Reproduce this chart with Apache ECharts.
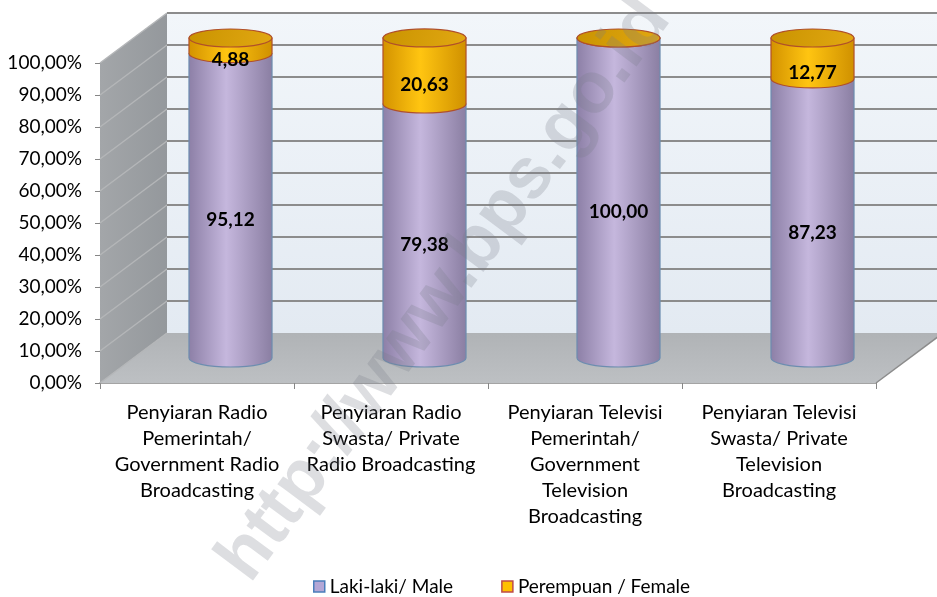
<!DOCTYPE html>
<html>
<head>
<meta charset="utf-8">
<script src="https://cdn.jsdelivr.net/npm/echarts@6/dist/echarts.min.js"></script>
<style>
  html, body { margin: 0; padding: 0; background: #fff; }
  #main { width: 937px; height: 597px; }
</style>
</head>
<body>
<div id="main"></div>
<script>
var categories = [
  'Penyiaran Radio\nPemerintah/\nGovernment Radio\nBroadcasting',
  'Penyiaran Radio\nSwasta/ Private\nRadio Broadcasting',
  'Penyiaran Televisi\nPemerintah/\nGovernment\nTelevision\nBroadcasting',
  'Penyiaran Televisi\nSwasta/ Private\nTelevision\nBroadcasting'
];
var male = [95.12, 79.38, 100.00, 87.23];
var female = [4.88, 20.63, 0, 12.77];
var yTicks = [0, 10, 20, 30, 40, 50, 60, 70, 80, 90, 100];

var FONT = 'Lato';
// depth of the 3d box
var DX = 67, DY = -50;

function fmt(v) { return v.toFixed(2).replace('.', ','); }

// cylinder segments: [category, start, end]
var maleData = male.map(function (v, i) { return [i, 0, v]; });
var femaleData = female.map(function (v, i) { return [i, male[i], male[i] + v]; });

function wallsItem(params, api) {
  var cs = params.coordSys;
  var x0 = cs.x, x1 = cs.x + cs.width;
  var yTop = api.coord([0, 100])[1];
  var yBot = api.coord([0, 0])[1];
  var kids = [];
  // back wall
  kids.push({
    type: 'polygon',
    shape: { points: [[x0 + DX, yTop + DY], [x1 + DX + 20, yTop + DY], [x1 + DX + 20, yBot + DY], [x0 + DX, yBot + DY]] },
    style: { fill: { type: 'linear', x: 0, y: 0, x2: 0, y2: 1, colorStops: [{ offset: 0, color: '#f2f6fa' }, { offset: 1, color: '#e3eaf2' }] } }
  });
  // side wall
  kids.push({
    type: 'polygon',
    shape: { points: [[x0, yBot], [x0, yTop], [x0 + DX, yTop + DY], [x0 + DX, yBot + DY]] },
    style: { fill: { type: 'linear', x: 0, y: 0, x2: 1, y2: 0, colorStops: [{ offset: 0, color: '#a3a6a9' }, { offset: 1, color: '#94989c' }] } }
  });
  // floor
  kids.push({
    type: 'polygon',
    shape: { points: [[x0, yBot], [x1, yBot], [x1 + DX, yBot + DY], [x0 + DX, yBot + DY]] },
    style: { fill: { type: 'linear', x: 0, y: 0, x2: 0, y2: 1, colorStops: [{ offset: 0, color: '#b0b3b6' }, { offset: 1, color: '#bdc0c3' }] } }
  });
  yTicks.forEach(function (v) {
    var y = api.coord([0, v])[1];
    if (v > 0) {
      kids.push({ type: 'line', shape: { x1: x0, y1: y, x2: x0 + DX, y2: y + DY }, style: { stroke: '#b4b6b8', lineWidth: 1.5 } });
      kids.push({ type: 'line', shape: { x1: x0 + DX, y1: y + DY, x2: x1 + DX + 20, y2: y + DY }, style: { stroke: '#8c8c8c', lineWidth: 2 } });
    }
  });
  kids.push({ type: 'line', shape: { x1: x1, y1: yBot, x2: x1 + DX, y2: yBot + DY }, style: { stroke: '#8c8c8c', lineWidth: 1.5 } });
  kids.push({ type: 'line', shape: { x1: x0, y1: yBot, x2: x0 + DX, y2: yBot + DY }, style: { stroke: '#b4b6b8', lineWidth: 1.5 } });
  return { type: 'group', children: kids };
}

function cylinder(isTop) {
  return function (params, api) {
    var idx = api.value(0), s = api.value(1), e = api.value(2);
    var p0 = api.coord([idx, s]);
    var p1 = api.coord([idx, e]);
    var band = api.size([1, 0])[0];
    var rx = band * 0.214, ry = 9;
    var cx = p0[0] + DX / 2;
    var y0 = p0[1] + DY / 2, y1 = p1[1] + DY / 2;
    var body = isTop
      ? [{ offset: 0, color: '#d39200' }, { offset: 0.45, color: '#ffc511' }, { offset: 1, color: '#cf9000' }]
      : [{ offset: 0, color: '#8c7fa6' }, { offset: 0.45, color: '#c5b7dd' }, { offset: 1, color: '#8a7ea2' }];
    var stroke = isTop ? '#b0502a' : '#6d8db0';
    var path = 'M' + (cx - rx) + ' ' + y1 + ' L' + (cx - rx) + ' ' + y0 +
      ' A' + rx + ' ' + ry + ' 0 0 0 ' + (cx + rx) + ' ' + y0 +
      ' L' + (cx + rx) + ' ' + y1 + ' Z';
    var kids = [{
      type: 'path',
      shape: { pathData: path },
      style: { fill: { type: 'linear', x: 0, y: 0, x2: 1, y2: 0, colorStops: body }, stroke: stroke, lineWidth: 1.2 }
    }];
    if (isTop) {
      kids.push({
        type: 'ellipse',
        shape: { cx: cx, cy: y1, rx: rx, ry: ry },
        style: { fill: { type: 'linear', x: 0, y: 0, x2: 1, y2: 1, colorStops: [{ offset: 0, color: '#c99300' }, { offset: 1, color: '#e2a812' }] }, stroke: stroke, lineWidth: 1.2 }
      });
    }
    var v = e - s;
    if (v > 0) {
      kids.push({
        type: 'text',
        style: {
          text: fmt(v), x: cx, y: (y0 + y1) / 2 + (isTop ? 14 : 14),
          align: 'center', verticalAlign: 'middle',
          font: 'bold 19px ' + FONT, fill: '#000'
        }
      });
    }
    return { type: 'group', children: kids };
  };
}

var chart = echarts.init(document.getElementById('main'));
chart.setOption({
  animation: false,
  backgroundColor: '#fff',
  grid: { left: 100, right: 61, top: 63, bottom: 214 },
  legend: {
    left: 308, top: 572,
    icon: 'rect', itemWidth: 11, itemHeight: 11, itemGap: 48,
    textStyle: { fontFamily: FONT, fontSize: 19, color: '#000' },
    data: [
      { name: 'Laki-laki/ Male', itemStyle: { color: '#b4a7d6', borderColor: '#4a7ebb', borderWidth: 1.5 } },
      { name: 'Perempuan / Female', itemStyle: { color: '#ffc000', borderColor: '#be4b48', borderWidth: 1.5 } }
    ]
  },
  xAxis: {
    type: 'category',
    data: categories,
    axisLine: { lineStyle: { color: '#868686', width: 1.5 } },
    axisTick: { show: true, length: 6, lineStyle: { color: '#868686' } },
    axisLabel: { interval: 0, margin: 17, fontFamily: FONT, fontSize: 20, lineHeight: 26, color: '#000' }
  },
  yAxis: {
    type: 'value', min: 0, max: 100, interval: 10,
    axisLine: { show: true, lineStyle: { color: '#868686' } },
    axisTick: { show: true, length: 5, lineStyle: { color: '#868686' } },
    splitLine: { show: false },
    axisLabel: { margin: 18, fontFamily: FONT, fontSize: 19, color: '#000', formatter: function (v) { return fmt(v) + '%'; } }
  },
  graphic: [{
    type: 'text',
    x: 445, y: 290,
    rotation: 0.93,
    z: 100,
    style: {
      text: 'http://www.bps.go.id',
      font: 'bold 72px "Liberation Sans"',
      fill: 'rgba(120,125,135,0.25)',
      align: 'center', verticalAlign: 'middle'
    }
  }],
  series: [
    {
      type: 'custom', name: 'walls', z: 1, silent: true,
      renderItem: wallsItem, data: [[0, 0]],
      encode: { x: 0, y: 1 }
    },
    {
      type: 'custom', name: 'Laki-laki/ Male', z: 2,
      itemStyle: { color: '#b4a7d6', borderColor: '#4a7ebb' },
      renderItem: cylinder(false), data: maleData,
      encode: { x: 0, y: [1, 2] }
    },
    {
      type: 'custom', name: 'Perempuan / Female', z: 3,
      itemStyle: { color: '#ffc000', borderColor: '#be4b48' },
      renderItem: cylinder(true), data: femaleData,
      encode: { x: 0, y: [1, 2] }
    }
  ]
});
</script>
</body>
</html>
